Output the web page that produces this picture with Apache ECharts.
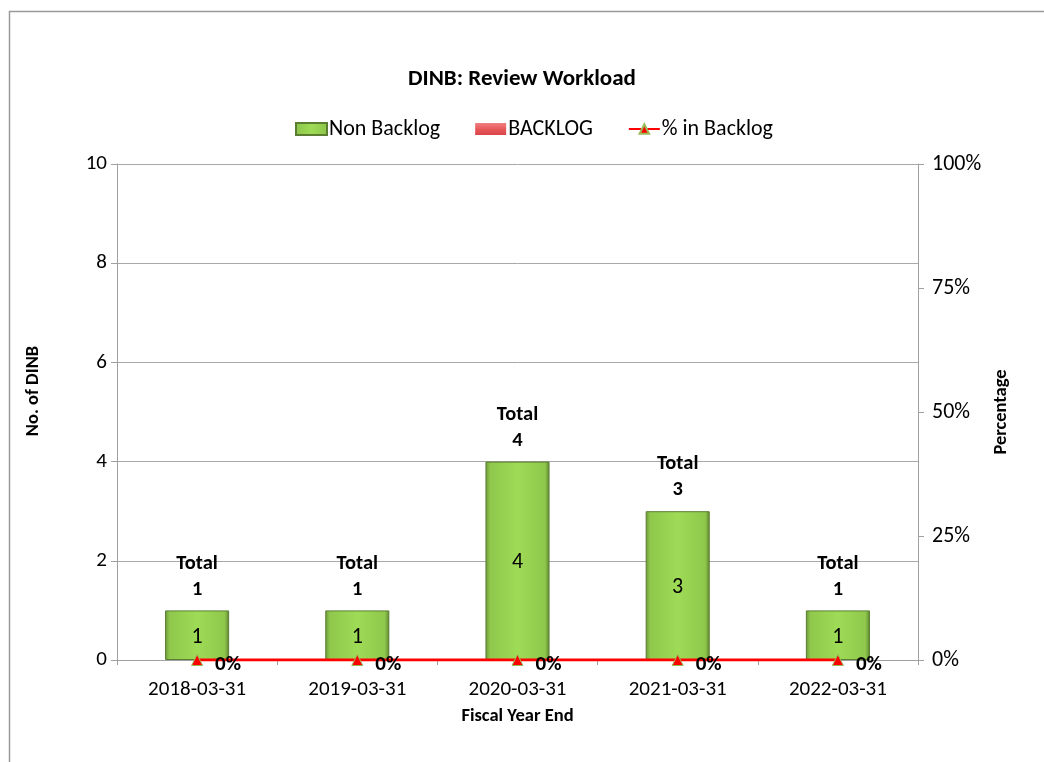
<!DOCTYPE html>
<html>
<head>
<meta charset="utf-8">
<script src="https://cdn.jsdelivr.net/npm/echarts@6/dist/echarts.min.js"></script>
<style>
  html, body { margin: 0; padding: 0; background: #fff; }
  #chart { width: 1044px; height: 762px; }
</style>
</head>
<body>
<div id="chart"></div>
<script>
// Fiscal year ends and review counts
const categories = ['2018-03-31', '2019-03-31', '2020-03-31', '2021-03-31', '2022-03-31'];
const nonBacklog = [1, 1, 4, 3, 1];
const backlog = [0, 0, 0, 0, 0];
const pctInBacklog = [0, 0, 0, 0, 0];
const countTicks = [0, 2, 4, 6, 8, 10];
const pctTicks = [0, 0.25, 0.5, 0.75, 1];

const totals = nonBacklog.map((v, i) => v + backlog[i]);
const FONT = 'Carlito, Lato, "Open Sans", sans-serif';

const greenFill = new echarts.graphic.LinearGradient(0, 0, 1, 0, [
  { offset: 0, color: '#6c973a' },
  { offset: 0.07, color: '#8fc84c' },
  { offset: 0.5, color: '#9edb56' },
  { offset: 0.93, color: '#8fc84c' },
  { offset: 1, color: '#5c862e' }
]);
const redFill = new echarts.graphic.LinearGradient(0, 0, 0, 1, [
  { offset: 0, color: '#f08080' },
  { offset: 0.5, color: '#e85a5c' },
  { offset: 1, color: '#d94448' }
]);

const chart = echarts.init(document.getElementById('chart'), null, { renderer: 'canvas' });

chart.setOption({
  backgroundColor: '#ffffff',
  animation: false,
  textStyle: { fontFamily: FONT },
  graphic: [{
    type: 'rect',
    shape: { x: 9.5, y: 11.5, width: 1200, height: 900 },
    style: { fill: 'none', stroke: '#9a9a9a', lineWidth: 1.5 },
    silent: true
  }],
  title: {
    text: 'DINB: Review Workload',
    left: 'center',
    top: 63,
    textStyle: { fontFamily: FONT, fontSize: 23, fontWeight: 'bold', color: '#000' }
  },
  legend: {
    top: 113,
    left: 290,
    itemWidth: 31,
    itemHeight: 12,
    itemGap: 35,
    textStyle: { fontFamily: FONT, fontSize: 22, color: '#000', padding: [0, 0, 0, -3] },
    data: [
      { name: 'Non Backlog', icon: 'rect' },
      { name: 'BACKLOG', icon: 'rect' },
      { name: '% in Backlog' }
    ]
  },
  grid: { left: 117, right: 126, top: 164, bottom: 102 },
  xAxis: {
    type: 'category',
    data: categories,
    name: 'Fiscal Year End',
    nameLocation: 'middle',
    nameGap: 47,
    nameTextStyle: { fontFamily: FONT, fontSize: 18.5, fontWeight: 'bold', color: '#000' },
    axisLine: { lineStyle: { color: '#a0a0a0', width: 1 } },
    axisTick: { show: true, alignWithLabel: false, length: 5, lineStyle: { color: '#a0a0a0' } },
    axisLabel: { fontFamily: FONT, fontSize: 21, color: '#000', margin: 19 }
  },
  yAxis: [{
    type: 'value',
    min: countTicks[0],
    max: countTicks[countTicks.length - 1],
    interval: countTicks[1] - countTicks[0],
    name: 'No. of DINB',
    nameLocation: 'middle',
    nameGap: 74,
    nameTextStyle: {
      fontFamily: FONT, fontSize: 18.5, fontWeight: 'bold', color: '#000',
      padding: [0, 0, 0, 42]
    },
    axisLine: { show: true, lineStyle: { color: '#a0a0a0', width: 1 } },
    axisTick: { show: true, length: 6, lineStyle: { color: '#a0a0a0' } },
    axisLabel: { fontFamily: FONT, fontSize: 21, color: '#000', margin: 10 },
    splitLine: { show: true, lineStyle: { color: '#a8a8a8', width: 1 } }
  }, {
    type: 'value',
    min: pctTicks[0],
    max: pctTicks[pctTicks.length - 1],
    interval: pctTicks[1] - pctTicks[0],
    name: 'Percentage',
    nameLocation: 'middle',
    nameGap: 70,
    nameRotate: 90,
    nameTextStyle: { fontFamily: FONT, fontSize: 18.5, fontWeight: 'bold', color: '#000' },
    axisLine: { show: true, lineStyle: { color: '#a0a0a0', width: 1 } },
    axisTick: { show: true, length: 6, lineStyle: { color: '#a0a0a0' } },
    axisLabel: {
      fontFamily: FONT, fontSize: 22, color: '#000', margin: 14,
      formatter: v => Math.round(v * 100) + '%'
    },
    splitLine: { show: false }
  }],
  series: [{
    name: 'Non Backlog',
    type: 'bar',
    stack: 'reviews',
    barWidth: '40%',
    data: nonBacklog,
    itemStyle: { color: greenFill, borderColor: '#5b7d32', borderWidth: 1 },
    label: {
      show: true,
      position: 'inside',
      offset: [0, 2],
      fontFamily: FONT, fontSize: 22, color: '#000'
    },
    z: 2
  }, {
    name: 'BACKLOG',
    type: 'bar',
    stack: 'reviews',
    barWidth: '40%',
    data: backlog,
    itemStyle: { color: redFill, borderColor: '#c04040', borderWidth: 0 },
    label: {
      show: true,
      position: 'top',
      distance: 8,
      fontFamily: FONT, fontSize: 20.5, fontWeight: 'bold', color: '#000',
      lineHeight: 26,
      formatter: p => 'Total\n' + totals[p.dataIndex]
    },
    z: 2
  }, {
    name: '% in Backlog',
    type: 'line',
    yAxisIndex: 1,
    data: pctInBacklog,
    symbol: 'triangle',
    symbolSize: 11,
    lineStyle: { color: '#ff0000', width: 3 },
    itemStyle: { color: '#ff0000', borderColor: '#9bbb59', borderWidth: 1 },
    label: {
      show: true,
      position: 'right',
      distance: 12,
      offset: [0, 5],
      fontFamily: FONT, fontSize: 21, fontWeight: 'bold', color: '#000',
      formatter: p => Math.round(p.value * 100) + '%'
    },
    z: 5
  }]
});
</script>
</body>
</html>
